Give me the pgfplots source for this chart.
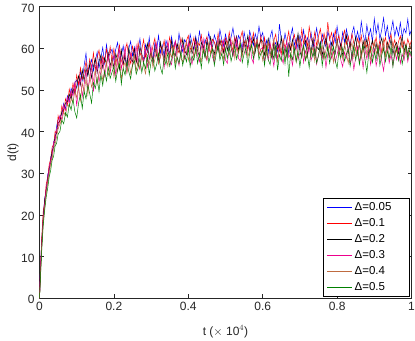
\documentclass[border=0pt]{standalone}
\usepackage{pgfplots}
\usepackage{pgfplotstable}
\pgfplotsset{compat=1.18}
\usepackage{fontspec}
\setmainfont{Liberation Sans}
\definecolor{cbrown}{rgb}{0.75,0.42,0.25}
\definecolor{cgreen}{rgb}{0,0.5,0}
\definecolor{axgray}{rgb}{0.15,0.15,0.15}
\pgfplotstableread{
t B R K M Br G
0 0 0 0 0 0 0
0.003 8.2 7.5 6.9 8.8 6.1 5.7
0.006 13.9 14.6 13.1 12.7 12.2 11.4
0.01 19.6 20.8 19.2 18.9 18.3 17.5
0.014 23.9 23.1 23.6 22.4 21.8 21.2
0.018 25.8 27.4 26.1 26.6 25.0 24.3
0.022 29.7 28.9 28.4 28.0 27.6 26.4
0.026 30.6 32.1 31.2 31.5 29.8 29.1
0.03 33.9 33.4 32.6 32.8 32.1 30.7
0.034 34.8 36.3 35.4 34.1 33.5 33.2
0.038 37.6 36.9 36.2 37.4 35.9 34.1
0.042 38.2 40.1 38.9 37.8 37.0 36.6
0.046 41.3 39.5 39.7 40.6 38.8 37.2
0.05 42.9 43.8 42.1 41.2 40.6 39.4
0.055 43.7 42.0 42.6 43.9 41.9 40.1
0.06 44.1 46.2 44.8 43.0 42.5 42.8
0.065 46.8 44.6 45.3 46.4 44.7 41.9
0.07 45.5 47.9 46.9 45.1 43.8 44.6
0.075 48.6 46.4 47.2 48.3 46.6 43.5
0.08 47.3 50.2 49.0 46.8 45.9 46.7
0.085 50.4 48.1 47.8 49.9 47.8 45.2
0.09 49.1 51.6 50.3 48.5 47.1 47.9
0.095 51.8 49.5 49.2 51.7 49.6 44.8
0.1 52.4 53.6 50.9 46.1 48.2 43.3
0.105 50.1 51.2 53.4 50.7 50.9 46.8
0.11 54.7 55.3 51.2 52.9 47.4 48.9
0.115 52.3 52.6 54.8 48.4 51.6 45.6
0.12 55.9 54.1 52.1 51.3 49.5 49.7
0.125 58.8 56.8 55.2 54.7 52.8 47.9
0.13 53.6 53.9 53.4 50.2 48.9 51.2
0.135 55.7 57.4 56.3 52.5 53.6 49.1
0.14 57.3 55.2 52.9 55.8 50.7 46.9
0.145 54.6 58.9 55.7 49.6 52.4 51.8
0.15 56.9 54.8 57.6 53.7 54.9 50.4
0.155 59.1 57.7 54.1 56.2 51.3 52.9
0.16 55.3 59.6 56.8 51.9 53.8 49.6
0.165 57.8 55.9 58.4 54.4 55.7 53.7
0.17 60.2 58.1 55.3 57.5 52.2 51.1
0.175 56.4 56.6 57.7 53.3 54.6 54.6
0.18 60.9 59.8 56.2 55.9 56.9 52.2
0.185 57.7 57.3 58.9 58.3 53.5 55.4
0.19 58.9 60.4 55.8 54.1 55.1 52.8
0.195 59.8 56.9 57.6 56.9 57.4 54.3
0.2 57.1 59.9 55.4 58.2 53.1 55.6
0.205 59.8 56.3 58.7 53.4 56.9 52.1
0.21 61.4 58.4 57.2 56.8 54.4 54.9
0.215 56.9 60.8 54.9 59.7 57.8 56.3
0.22 58.3 57.1 59.6 55.1 52.6 51.4
0.225 60.6 55.9 56.3 57.4 55.3 55.2
0.23 57.4 59.3 58.1 60.3 56.7 53.6
0.235 55.9 61.2 55.6 54.2 54.1 56.9
0.24 59.9 57.8 60.2 56.6 57.5 54.4
0.245 61.7 56.4 57.4 58.9 53.9 52.7
0.25 58.2 60.5 56.8 55.7 56.2 55.9
0.255 60.3 58.6 59.9 57.9 58.3 57.1
0.26 56.8 56.7 57.1 60.7 54.6 53.8
0.265 59.5 61.4 55.9 56.3 56.9 55.3
0.27 62.3 58.2 60.4 54.9 55.2 57.6
0.275 58.6 59.7 58.3 58.4 58.7 54.2
0.28 57.2 62.1 56.7 57.1 55.8 56.7
0.285 60.9 57.9 59.1 59.8 53.9 55.1
0.29 59.1 59.2 61.2 55.6 57.4 58.2
0.295 62.6 61.3 57.5 57.7 56.1 53.7
0.3 58.4 58.1 58.9 60.4 58.9 56.8
0.305 57.6 60.6 56.4 56.9 55.4 57.9
0.31 61.3 62.4 60.3 58.6 57.3 54.6
0.315 59.7 58.8 58.2 61.2 59.6 56.2
0.32 63.1 57.5 57.1 56.4 56.3 58.8
0.325 58.9 60.9 61.5 58.1 57.8 55.4
0.33 60.8 59.4 58.8 59.9 60.2 53.9
0.335 58.1 61.9 57.4 55.3 56.6 57.7
0.34 61.9 58.3 60.7 58.8 58.4 56.1
0.345 60.2 59.8 59.3 61.7 55.7 58.9
0.35 58.7 62.7 57.9 57.2 59.1 55.7
0.355 62.8 60.2 61.8 56.1 57.9 57.3
0.36 60.1 58.6 59.1 59.6 60.5 59.6
0.365 61.7 61.6 58.2 61.8 56.4 55.2
0.37 59.4 60.1 61.1 57.7 58.7 57.9
0.375 63.6 58.9 59.7 55.9 61.1 56.4
0.38 60.7 62.5 58.4 59.3 57.6 59.2
0.385 59.2 60.4 62.3 60.9 56.8 55.9
0.39 62.1 59.0 59.6 57.4 59.4 58.3
0.395 61.3 61.8 58.5 58.9 61.3 56.8
0.4 59.6 63.1 60.8 61.5 57.1 60.1
0.405 63.4 59.7 61.9 57.6 58.9 55.6
0.41 61.2 60.5 58.7 56.2 60.8 58.2
0.415 59.8 62.6 60.2 59.4 57.8 57.1
0.42 62.9 58.9 62.4 61.7 59.5 60.3
0.425 60.3 61.4 59.3 58.2 61.6 56.4
0.43 64.1 60.7 58.1 56.8 58.2 58.7
0.435 61.5 63.2 61.4 60.1 56.9 55.3
0.44 59.7 59.4 60.6 62.3 60.1 59.6
0.445 62.2 61.1 57.9 58.7 59.2 57.8
0.45 60.9 62.8 61.7 57.1 57.4 60.7
0.455 63.8 60.1 59.8 59.9 61.2 56.5
0.46 61.1 58.8 62.7 61.6 58.6 58.4
0.465 60.2 62.2 60.1 57.9 60.3 59.9
0.47 63.2 61.5 58.6 56.6 57.6 55.9
0.475 61.8 59.7 61.3 60.5 59.8 58.6
0.48 59.9 63.6 59.2 62.1 61.9 60.9
0.485 64.5 60.6 62.1 58.3 58.1 57.2
0.49 62.1 61.9 60.4 59.7 60.6 58.8
0.495 60.6 59.2 58.9 61.9 57.3 56.1
0.5 63.4 62.5 61.6 57.2 59.9 59.9
0.505 61.3 60.9 59.5 56.4 61.5 57.6
0.51 59.6 63.9 62.6 60.2 58.4 60.5
0.515 62.7 61.1 60.1 61.8 59.7 56.9
0.52 64.9 59.4 58.3 58.1 61.8 58.9
0.525 61.9 62.7 61.2 59.4 57.5 60.6
0.53 60.4 60.8 62.9 62.4 60.2 57.4
0.535 63.1 58.9 59.7 57.6 58.9 59.3
0.54 62.0 62.4 60.9 56.9 61.4 61.1
0.545 59.8 64.1 58.8 60.7 58.0 56.6
0.55 63.9 60.5 61.8 61.3 60.7 58.7
0.555 61.4 61.7 60.2 58.6 62.1 60.2
0.56 60.1 59.6 63.1 59.8 57.9 55.8
0.565 64.2 62.9 59.4 62.6 59.6 58.9
0.57 62.3 61.3 60.7 57.7 61.2 60.8
0.575 60.7 63.7 62.4 56.4 58.6 57.5
0.58 63.5 60.2 59.1 60.4 60.9 59.6
0.585 61.8 62.1 61.6 61.7 62.4 61.2
0.59 65.3 59.8 60.3 58.5 58.3 57.3
0.595 62.6 63.0 62.1 59.9 59.8 58.8
0.6 63.8 59.4 61.7 60.2 57.1 59.6
0.605 60.2 62.6 58.4 56.9 60.8 55.9
0.61 61.9 58.7 60.3 59.5 58.4 60.4
0.615 58.9 61.3 62.4 57.2 61.6 57.2
0.62 62.7 60.8 59.1 61.4 57.9 56.1
0.625 64.3 58.1 57.6 58.3 60.3 59.8
0.63 60.6 61.9 60.9 55.7 62.2 57.4
0.635 61.4 63.4 58.2 59.9 58.6 60.9
0.64 59.3 59.7 61.5 57.6 56.8 54.7
0.645 65.8 60.9 59.4 60.8 60.1 58.5
0.65 62.1 58.6 62.8 58.1 59.5 57.0
0.655 60.4 62.2 58.6 56.4 61.9 59.9
0.66 63.6 60.1 60.1 59.7 57.3 56.3
0.665 61.2 61.7 57.9 61.6 58.9 60.5
0.67 58.8 64.1 61.2 57.8 60.7 53.2
0.675 62.9 59.8 59.6 58.6 57.6 58.8
0.68 64.9 61.5 62.1 55.9 61.4 57.3
0.685 60.7 63.3 58.8 59.2 59.1 60.2
0.69 62.4 60.4 60.7 60.9 56.7 56.8
0.695 59.9 62.8 63.6 57.3 60.2 59.4
0.7 63.1 59.9 59.3 58.9 62.3 55.6
0.705 61.7 64.6 57.8 61.3 58.0 58.9
0.71 64.4 61.2 60.6 56.6 60.6 60.7
0.715 60.5 63.1 61.9 59.4 57.2 57.1
0.72 62.6 60.2 58.5 57.8 59.7 58.6
0.725 61.0 65.2 60.9 60.6 61.8 55.4
0.73 63.8 62.4 59.2 57.1 58.3 59.7
0.735 60.1 61.1 62.3 58.9 60.4 57.9
0.74 62.2 63.9 58.1 61.2 56.9 60.1
0.745 64.9 60.7 60.4 56.2 59.8 56.5
0.75 61.6 62.9 59.7 58.4 62.1 58.2
0.755 59.8 64.7 61.6 60.3 58.5 61.0
0.76 63.4 61.4 58.3 57.5 60.9 55.8
0.765 61.9 63.6 60.8 59.6 57.4 59.1
0.77 60.3 60.8 62.6 55.4 59.6 57.5
0.775 64.0 66.3 59.5 58.7 61.3 60.3
0.78 62.5 62.0 57.9 60.9 58.1 56.4
0.785 59.7 63.8 61.4 57.6 60.5 58.8
0.79 63.5 60.9 60.2 59.3 56.6 60.4
0.795 61.3 64.4 58.7 56.8 59.9 57.0
0.8 65.3 61.6 62.1 58.5 61.7 55.3
0.805 62.1 63.1 59.4 60.6 58.2 59.3
0.81 60.6 59.9 61.1 57.2 60.3 57.7
0.815 63.9 62.7 58.2 55.6 57.5 60.1
0.82 61.4 64.3 60.5 59.1 61.2 56.9
0.825 64.6 61.0 63.2 57.7 58.8 58.6
0.83 62.3 62.9 59.0 60.2 56.4 59.8
0.835 60.8 60.4 61.3 56.3 59.6 55.7
0.84 63.6 63.5 57.6 58.6 61.4 58.4
0.845 65.2 61.2 60.4 54.9 57.8 60.6
0.85 62.0 59.6 62.7 57.9 60.1 57.2
0.855 64.1 62.4 59.2 60.4 58.3 59.5
0.86 61.7 60.7 60.9 56.7 61.6 56.1
0.865 66.4 63.1 58.1 58.8 57.7 58.9
0.87 63.3 59.3 61.8 55.3 59.9 60.8
0.875 61.5 61.8 59.7 59.6 62.0 57.4
0.88 65.6 60.2 62.4 57.4 58.4 54.2
0.885 62.8 62.9 58.6 60.5 60.7 58.7
0.89 64.7 59.1 60.3 56.1 57.2 60.2
0.895 61.6 61.4 61.9 58.3 59.5 56.6
0.9 67.1 60.6 59.1 59.8 61.8 59.1
0.905 63.4 62.7 61.2 55.8 58.6 57.3
0.91 65.9 59.5 58.3 58.1 60.4 60.6
0.915 62.2 61.9 60.8 60.7 57.4 55.9
0.92 64.5 58.8 62.5 57.0 59.8 58.4
0.925 67.3 61.1 59.6 54.6 62.3 60.0
0.93 63.1 62.6 58.2 58.9 58.1 56.8
0.935 65.4 59.9 61.5 60.3 60.9 59.4
0.94 61.9 61.5 59.8 56.5 57.6 57.6
0.945 64.2 63.4 62.2 58.5 59.3 60.5
0.95 66.6 60.3 58.5 55.9 61.5 55.6
0.955 62.9 62.1 60.6 59.4 58.0 58.7
0.96 65.1 59.2 61.4 57.3 60.6 60.2
0.965 63.0 61.6 58.7 60.1 57.5 57.1
0.97 66.2 63.0 60.9 56.4 59.7 59.8
0.975 62.6 60.1 62.8 58.6 61.7 56.2
0.98 64.8 61.8 59.3 57.1 58.2 58.9
0.985 63.7 59.7 61.0 59.9 60.3 60.7
0.99 67.0 62.3 58.4 56.8 57.9 57.5
0.995 63.2 60.6 60.7 58.9 61.1 59.6
1.0 64.5 61.9 59.6 57.8 59.4 58.2
}\datatable
\begin{document}
\fontsize{12}{14}\selectfont
\begin{tikzpicture}
\begin{axis}[
  name=ax,
  width=372pt, height=291.6pt, scale only axis,
  xmin=0, xmax=1, ymin=0, ymax=70,
  xtick={0,0.2,0.4,0.6,0.8,1},
  xticklabels={0,0.2,0.4,0.6,0.8,1},
  ytick={0,10,20,30,40,50,60,70},
  /pgf/number format/assume math mode=true,
  tick align=inside,
  major tick length=4pt,
  axis line style={axgray, line width=0.9pt},
  tick style={axgray, line width=0.6pt},
  ticklabel style={font=\fontsize{12}{14}\selectfont, text=axgray},
  xticklabel style={anchor=base, yshift=-12.5pt},
  yticklabel style={xshift=-0.8pt, yshift=-1.5pt},
  xlabel={t ($\times$ 10$^4$)},
  ylabel={d(t)},
  label style={font=\fontsize{12}{14}\selectfont, text=axgray},
  xlabel style={at={(axis description cs:0.5,-0.1269)}, anchor=base},
  ylabel style={at={(axis description cs:-0.0712,0.5)}, anchor=center},
  legend style={at={(rel axis cs:0.995,0.004)}, anchor=south east,
    font=\fontsize{11.5}{12.5}\selectfont,
    row sep=2.3pt, inner xsep=3pt, inner ysep=2pt, legend cell align=left},
  every axis legend/.append style={line width=0.8pt},
  legend image code/.code={\draw[#1, line width=1pt] (0pt,0pt) -- (25pt,0pt);},
  every axis plot/.append style={line width=0.5pt},
]
\addplot[blue, no markers] table[x=t, y=B] {\datatable};
\addlegendentry{Δ=0.05\hphantom{00}}
\addplot[red, no markers] table[x=t, y=R] {\datatable};
\addlegendentry{Δ=0.1}
\addplot[black, no markers] table[x=t, y=K] {\datatable};
\addlegendentry{Δ=0.2}
\addplot[magenta, no markers] table[x=t, y=M] {\datatable};
\addlegendentry{Δ=0.3}
\addplot[cbrown, no markers] table[x=t, y=Br] {\datatable};
\addlegendentry{Δ=0.4}
\addplot[cgreen, no markers] table[x=t, y=G] {\datatable};
\addlegendentry{Δ=0.5}
\end{axis}
\pgfresetboundingbox
\path[use as bounding box] ([shift={(-39.5pt,-42.7pt)}]ax.south west) rectangle ([shift={(3.5pt,6.7pt)}]ax.north east);
\end{tikzpicture}
\end{document}
